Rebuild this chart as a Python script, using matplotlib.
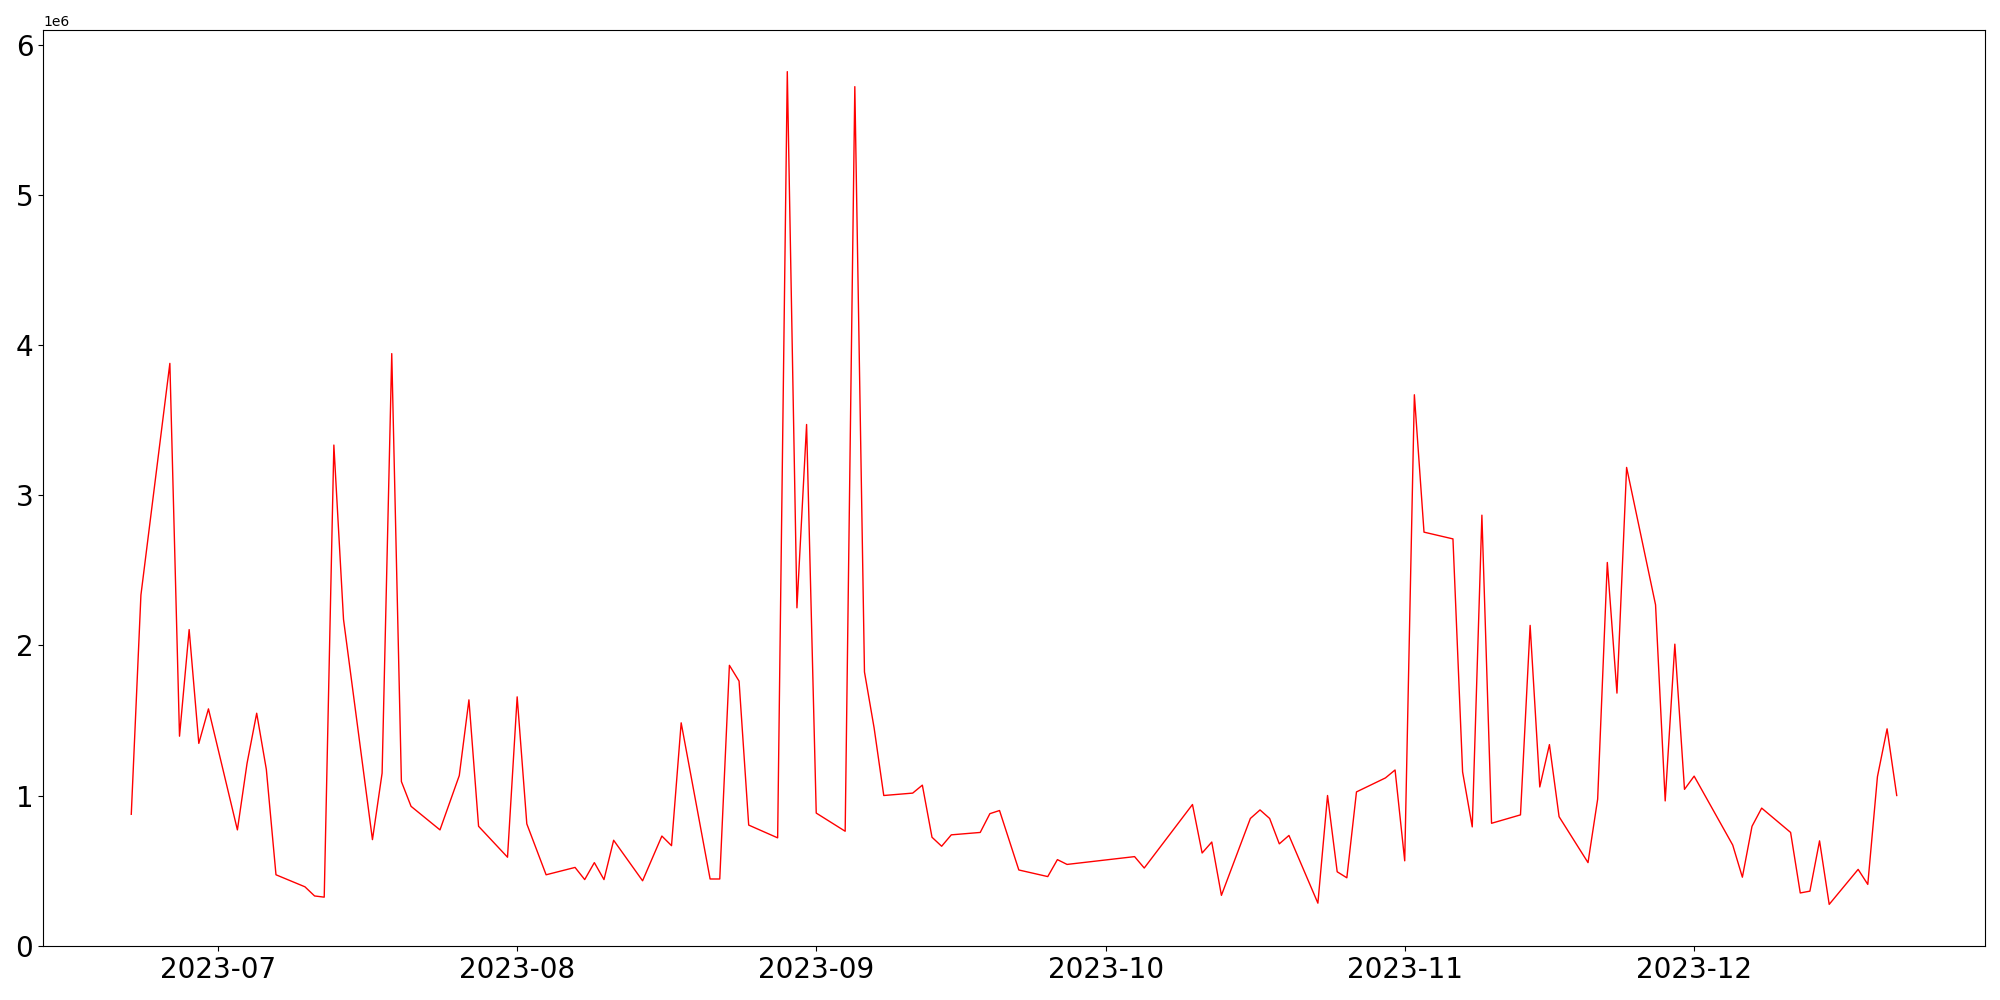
import matplotlib
matplotlib.use('Agg')
import matplotlib.pyplot as plt
import pandas as pd

dates = ['2023-06-22', '2023-06-23', '2023-06-26', '2023-06-27', '2023-06-28', '2023-06-29', '2023-06-30',
         '2023-07-03', '2023-07-04', '2023-07-05', '2023-07-06', '2023-07-07',
         '2023-07-10', '2023-07-11', '2023-07-12', '2023-07-13', '2023-07-14',
         '2023-07-17', '2023-07-18', '2023-07-19', '2023-07-20', '2023-07-21',
         '2023-07-24', '2023-07-26', '2023-07-27', '2023-07-28',
         '2023-07-31', '2023-08-01', '2023-08-02', '2023-08-04',
         '2023-08-07', '2023-08-08', '2023-08-09', '2023-08-10', '2023-08-11',
         '2023-08-14', '2023-08-16', '2023-08-17', '2023-08-18',
         '2023-08-21', '2023-08-22', '2023-08-23', '2023-08-24', '2023-08-25',
         '2023-08-28', '2023-08-29', '2023-08-30', '2023-08-31', '2023-09-01',
         '2023-09-04', '2023-09-05', '2023-09-06', '2023-09-07', '2023-09-08',
         '2023-09-11', '2023-09-12', '2023-09-13', '2023-09-14', '2023-09-15',
         '2023-09-18', '2023-09-19', '2023-09-20', '2023-09-22',
         '2023-09-25', '2023-09-26', '2023-09-27',
         '2023-10-04', '2023-10-05',
         '2023-10-10', '2023-10-11', '2023-10-12', '2023-10-13',
         '2023-10-16', '2023-10-17', '2023-10-18', '2023-10-19', '2023-10-20',
         '2023-10-23', '2023-10-24', '2023-10-25', '2023-10-26', '2023-10-27',
         '2023-10-30', '2023-10-31', '2023-11-01', '2023-11-02', '2023-11-03',
         '2023-11-06', '2023-11-07', '2023-11-08', '2023-11-09', '2023-11-10',
         '2023-11-13', '2023-11-14', '2023-11-15', '2023-11-16', '2023-11-17',
         '2023-11-20', '2023-11-21', '2023-11-22', '2023-11-23', '2023-11-24',
         '2023-11-27', '2023-11-28', '2023-11-29', '2023-11-30', '2023-12-01',
         '2023-12-05', '2023-12-06', '2023-12-07', '2023-12-08',
         '2023-12-11', '2023-12-12', '2023-12-13', '2023-12-14', '2023-12-15',
         '2023-12-18', '2023-12-19', '2023-12-20', '2023-12-21', '2023-12-22']

volume = [0.875, 2.335, 3.878, 1.395, 2.105, 1.347, 1.577,
          0.771, 1.214, 1.548, 1.174, 0.472,
          0.392, 0.331, 0.323, 3.334, 2.173,
          0.706, 1.149, 3.943, 1.093, 0.928,
          0.771, 1.133, 1.637, 0.795,
          0.589, 1.657, 0.811, 0.472,
          0.521, 0.440, 0.553, 0.440, 0.702,
          0.432, 0.730, 0.666, 1.484,
          0.444, 0.444, 1.867, 1.762, 0.803,
          0.718, 5.821, 2.250, 3.471, 0.883,
          0.762, 5.721, 1.823, 1.450, 1.000,
          1.016, 1.069, 0.722, 0.662, 0.738,
          0.754, 0.879, 0.900, 0.504,
          0.460, 0.573, 0.541,
          0.593, 0.517,
          0.940, 0.617, 0.690, 0.335,
          0.847, 0.904, 0.847, 0.678, 0.734,
          0.283, 1.000, 0.492, 0.452, 1.024,
          1.117, 1.170, 0.565, 3.669, 2.754,
          2.709, 1.157, 0.791, 2.867, 0.815,
          0.871, 2.133, 1.057, 1.339, 0.859,
          0.553, 0.976, 2.552, 1.682, 3.185,
          2.270, 0.964, 2.008, 1.041, 1.129,
          0.670, 0.456, 0.795, 0.916,
          0.754, 0.351, 0.363, 0.698, 0.275,
          0.508, 0.408, 1.125, 1.444, 1.000]

x = pd.to_datetime(dates)
y = [v * 1e6 for v in volume]

fig, ax = plt.subplots(figsize=(20, 10), dpi=100)
ax.plot(x, y, color='r', linewidth=1)
ax.tick_params(axis='both', labelsize=20)
fig.subplots_adjust(left=0.0215, right=0.9925, top=0.97, bottom=0.054)

plt.savefig('out.png')
